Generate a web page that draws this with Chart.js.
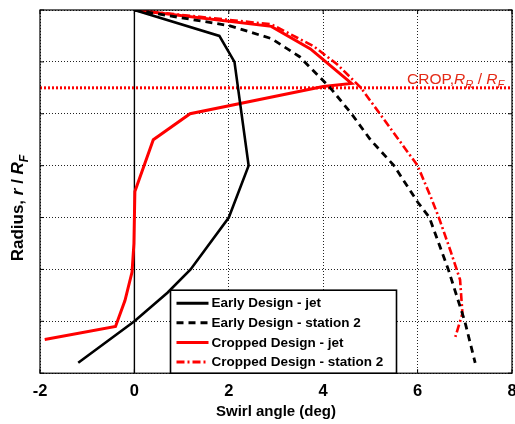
<!DOCTYPE html>
<html>
<head>
<meta charset="utf-8">
<script src="https://cdn.jsdelivr.net/npm/chart.js@4.4.1/dist/chart.umd.min.js"></script>
<style>
  html, body { margin: 0; padding: 0; background: #fff; }
  #wrap { width: 515px; height: 424px; }
</style>
</head>
<body>
<div id="wrap"><canvas id="swirlChart" width="515" height="424"></canvas></div>
<script>
// Swirl angle (deg) vs radius r/R_F
const earlyJetX = [0, 1.8, 2.12, 2.42, 2.0, 1.19, 0.7, 0, -1.19];
const earlyJetY = [1.4, 1.3, 1.2, 0.8, 0.6, 0.4, 0.31, 0.2, 0.04];

const earlyStn2X = [0, 1.0, 2.0, 2.9, 3.5, 4.15, 4.6, 5.0, 5.5, 6.0, 6.25, 6.65, 7.0, 7.22];
const earlyStn2Y = [1.4, 1.37, 1.34, 1.29, 1.22, 1.1, 1.0, 0.9, 0.8, 0.66, 0.6, 0.4, 0.2, 0.04];

const croppedJetX = [0, 2.9, 3.73, 4.6, 4.0, 1.18, 0.4, 0.01, -0.01, -0.05, -0.2, -0.4, -1.9];
const croppedJetY = [1.4, 1.337, 1.25, 1.117, 1.105, 1.0, 0.9, 0.7, 0.5, 0.39, 0.28, 0.18, 0.13];

const croppedStn2X = [0, 2.9, 3.8, 4.3, 4.8, 5.2, 5.6, 6.0, 6.3, 6.45, 6.7, 6.9, 6.95, 6.8];
const croppedStn2Y = [1.4, 1.345, 1.26, 1.19, 1.1, 1.0, 0.9, 0.8, 0.67, 0.6, 0.47, 0.36, 0.23, 0.14];

const seriesNames = ['Early Design - jet', 'Early Design - station 2', 'Cropped Design - jet', 'Cropped Design - station 2'];
const xTickValues = [-2, 0, 2, 4, 6, 8];
const cropRadius = 1.1; // CROP, R_R / R_F

const FONT = '"Liberation Sans", Arial, Helvetica, sans-serif';

function pairs(xs, ys) {
    return xs.map((x, i) => ({ x: x, y: ys[i] }));
}

// draw a run of text pieces (italic / subscript) one after another
function drawRich(ctx, parts, x, y, size, weight, align) {
    const fontOf = p => (p.italic ? 'italic ' : '') + weight + ' ' + (p.sub ? size * 0.72 : size) + 'px ' + FONT;
    let total = 0;
    parts.forEach(p => { ctx.font = fontOf(p); p.w = ctx.measureText(p.t).width; total += p.w; });
    let cx = align === 'center' ? x - total / 2 : x;
    ctx.textAlign = 'left';
    parts.forEach(p => {
        ctx.font = fontOf(p);
        ctx.fillText(p.t, cx, y + (p.sub ? size * 0.3 : 0));
        cx += p.w;
    });
}

const decor = {
    id: 'decor',
    beforeDatasetsDraw(chart) {
        const { ctx, chartArea: a, scales } = chart;
        ctx.save();
        // vertical line at zero swirl
        const x0 = scales.x.getPixelForValue(0);
        ctx.strokeStyle = '#000';
        ctx.lineWidth = 1.4;
        ctx.beginPath();
        ctx.moveTo(x0, a.top);
        ctx.lineTo(x0, a.bottom);
        ctx.stroke();
        // crop radius line
        const yc = scales.y.getPixelForValue(cropRadius);
        ctx.strokeStyle = '#ff0000';
        ctx.lineWidth = 3;
        ctx.setLineDash([2, 2]);
        ctx.beginPath();
        ctx.moveTo(a.left, yc);
        ctx.lineTo(a.right, yc);
        ctx.stroke();
        ctx.restore();
    },
    afterDatasetsDraw(chart) {
        const { ctx, chartArea: a, scales } = chart;
        ctx.save();
        // frame with inward ticks
        ctx.strokeStyle = '#000';
        ctx.lineWidth = 1.2;
        ctx.strokeRect(a.left, a.top, a.right - a.left, a.bottom - a.top);
        ctx.lineWidth = 1;
        ctx.beginPath();
        scales.x.ticks.forEach(t => {
            const px = scales.x.getPixelForValue(t.value);
            ctx.moveTo(px, a.top); ctx.lineTo(px, a.top + 4);
            ctx.moveTo(px, a.bottom); ctx.lineTo(px, a.bottom - 4);
        });
        scales.y.ticks.forEach(t => {
            const py = scales.y.getPixelForValue(t.value);
            ctx.moveTo(a.left, py); ctx.lineTo(a.left + 4, py);
            ctx.moveTo(a.right, py); ctx.lineTo(a.right - 4, py);
        });
        ctx.stroke();

        // crop label
        ctx.fillStyle = 'rgb(228,42,22)';
        ctx.textBaseline = 'alphabetic';
        drawRich(ctx, [
            { t: 'CROP,' }, { t: 'R', italic: true }, { t: 'R', italic: true, sub: true },
            { t: ' / ' }, { t: 'R', italic: true }, { t: 'F', italic: true, sub: true }
        ], a.right - 105, scales.y.getPixelForValue(cropRadius) - 4, 15.5, 'normal', 'left');

        // legend box
        const lx = a.left + 130.5, lw = 226, lh = 83;
        const ly = a.bottom - lh;
        ctx.fillStyle = '#fff';
        ctx.fillRect(lx, ly, lw, lh);
        ctx.strokeStyle = '#000';
        ctx.lineWidth = 1.6;
        ctx.strokeRect(lx, ly, lw, lh);
        chart.data.datasets.forEach((ds, i) => {
            const ry = ly + 13 + i * 19.6;
            ctx.strokeStyle = ds.borderColor;
            ctx.lineWidth = 3;
            ctx.setLineDash(ds.borderDash || []);
            ctx.beginPath();
            ctx.moveTo(lx + 6, ry);
            ctx.lineTo(lx + 38, ry);
            ctx.stroke();
            ctx.setLineDash([]);
            ctx.fillStyle = '#000';
            ctx.font = 'bold 13.5px ' + FONT;
            ctx.textAlign = 'left';
            ctx.textBaseline = 'middle';
            ctx.fillText(ds.label, lx + 41, ry + 0.5);
        });
        ctx.restore();
    },
    afterDraw(chart) {
        const { ctx, chartArea: a } = chart;
        ctx.save();
        ctx.fillStyle = '#000';
        ctx.textBaseline = 'alphabetic';
        // x axis title
        ctx.font = 'bold 15px ' + FONT;
        ctx.textAlign = 'center';
        ctx.fillText('Swirl angle (deg)', (a.left + a.right) / 2, 416);
        // y axis title, rotated
        ctx.translate(23, 208);
        ctx.rotate(-Math.PI / 2);
        drawRich(ctx, [
            { t: 'Radius, ' }, { t: 'r', italic: true }, { t: ' / ' },
            { t: 'R', italic: true }, { t: 'F', italic: true, sub: true }
        ], 0, 0, 17, 'bold', 'center');
        ctx.restore();
    }
};

document.addEventListener('DOMContentLoaded', function () {
    const ctx = document.getElementById('swirlChart').getContext('2d');
    const swirlChart = new Chart(ctx, {
        type: 'line',
        data: {
            datasets: [{
                label: seriesNames[0],
                data: pairs(earlyJetX, earlyJetY),
                borderColor: '#000000',
                borderWidth: 2.6
            }, {
                label: seriesNames[1],
                data: pairs(earlyStn2X, earlyStn2Y),
                borderColor: '#000000',
                borderWidth: 2.8,
                borderDash: [7, 5]
            }, {
                label: seriesNames[2],
                data: pairs(croppedJetX, croppedJetY),
                borderColor: '#ff0000',
                borderWidth: 3
            }, {
                label: seriesNames[3],
                data: pairs(croppedStn2X, croppedStn2Y),
                borderColor: '#ff0000',
                borderWidth: 2.6,
                borderDash: [8, 3, 2, 3]
            }]
        },
        options: {
            responsive: false,
            animation: false,
            layout: { padding: { left: 40, top: 10, right: 3, bottom: 15 } },
            elements: {
                point: { radius: 0, hoverRadius: 0 },
                line: { tension: 0, fill: false, borderCapStyle: 'butt' }
            },
            scales: {
                x: {
                    type: 'linear',
                    min: -2,
                    max: 8,
                    afterBuildTicks(axis) {
                        axis.ticks = xTickValues.map(v => ({ value: v }));
                    },
                    afterFit(axis) {
                        axis.paddingLeft = 0;
                        axis.paddingRight = 0;
                    },
                    ticks: {
                        color: '#000',
                        font: { family: FONT, size: 16.5, weight: 'bold' },
                        padding: 8,
                        maxRotation: 0
                    },
                    grid: { color: '#222', lineWidth: 1, drawTicks: false },
                    border: { display: false, dash: [1, 2] }
                },
                y: {
                    min: 0,
                    max: 1.4,
                    ticks: { display: false, stepSize: 0.2 },
                    afterFit(axis) { axis.width = 0; },
                    grid: { color: '#222', lineWidth: 1, drawTicks: false },
                    border: { display: false, dash: [1, 2] }
                }
            },
            plugins: {
                legend: { display: false },
                tooltip: { enabled: false }
            }
        },
        plugins: [decor]
    });
});
</script>
</body>
</html>
